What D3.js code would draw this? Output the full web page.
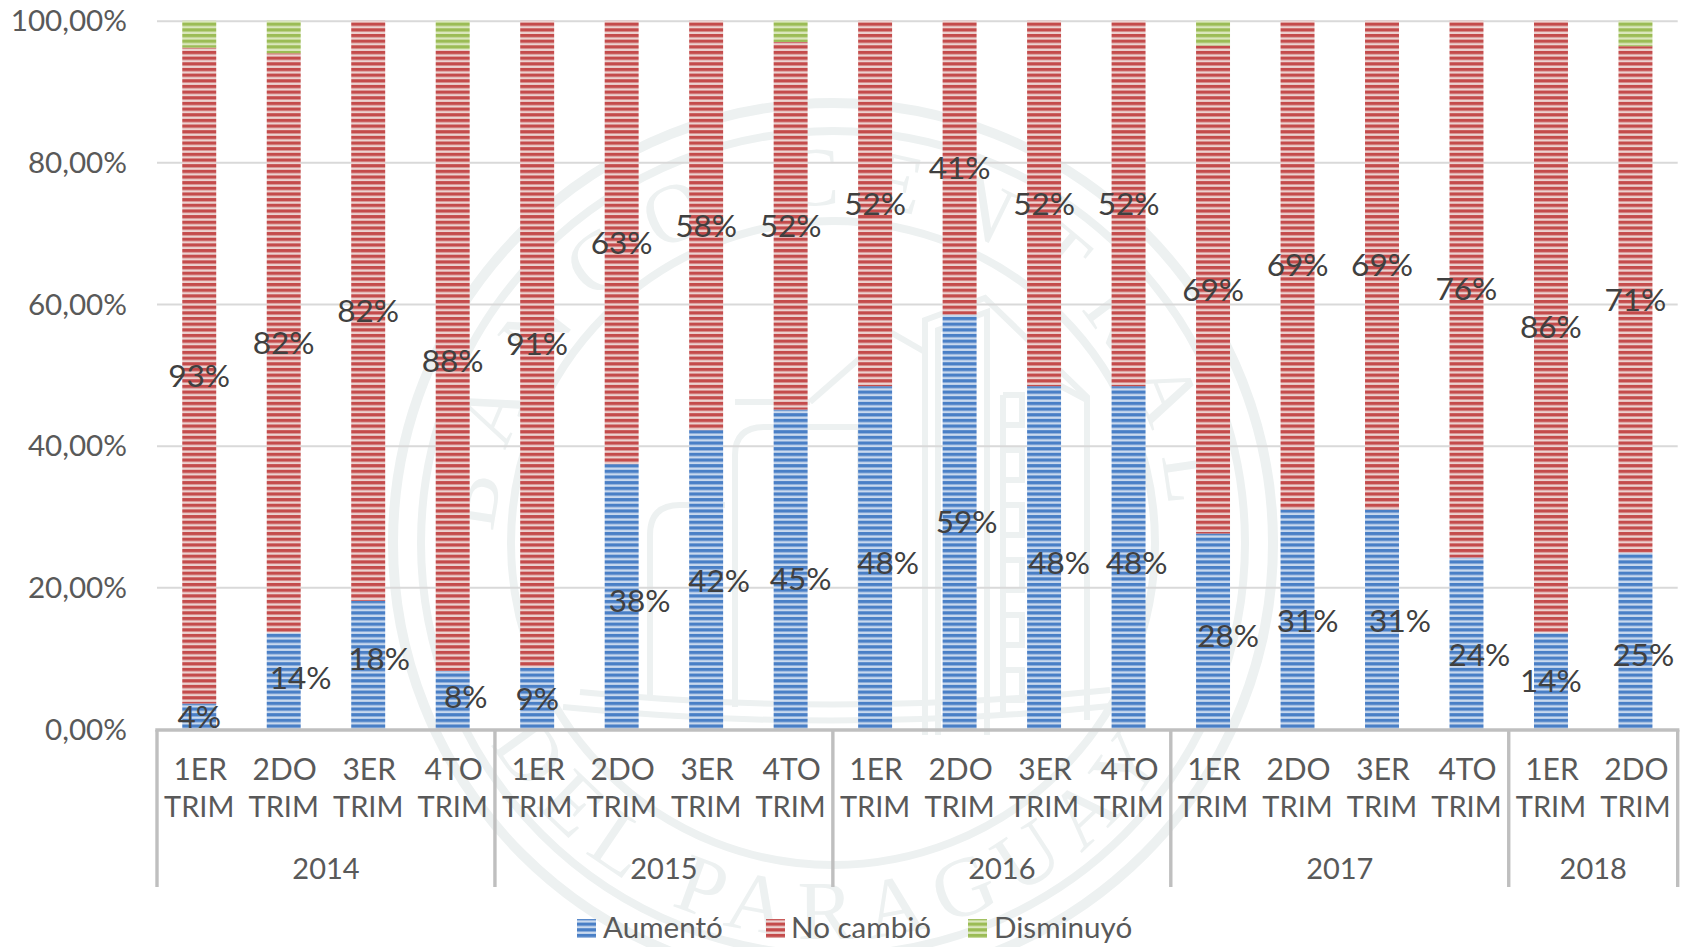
<!DOCTYPE html>
<html><head><meta charset="utf-8">
<script src="https://cdn.jsdelivr.net/npm/d3@7"></script>
<style>html,body{margin:0;padding:0;background:#fff}svg{display:block}text{font-family:Lato,"Open Sans",sans-serif}</style>
</head><body><div id="c"></div>
<script>
const quarters = ["1ER TRIM","2DO TRIM","3ER TRIM","4TO TRIM","1ER TRIM","2DO TRIM","3ER TRIM","4TO TRIM","1ER TRIM","2DO TRIM","3ER TRIM","4TO TRIM","1ER TRIM","2DO TRIM","3ER TRIM","4TO TRIM","1ER TRIM","2DO TRIM"];
const years = ["2014","2015","2016","2017","2018"];
const yearCounts = [4,4,4,4,2];
const seriesNames = ["Aumentó","No cambió","Disminuyó"];
const aumento   = [3.6,13.6,18.1,8.2,8.7,37.4,42.2,45.1,48.4,58.5,48.4,48.4,27.6,31,31,24.2,13.6,24.9];
const noCambio  = [92.6,81.8,81.9,87.7,91.3,62.6,57.8,51.9,51.6,41.5,51.6,51.6,68.9,69,69,75.8,86.4,71.5];
const disminuyo = [3.8,4.6,0,4.1,0,0,0,3,0,0,0,0,3.5,0,0,0,0,3.6];
const aumentoLabels  = ["4%","14%","18%","8%","9%","38%","42%","45%","48%","59%","48%","48%","28%","31%","31%","24%","14%","25%"];
const noCambioLabels = ["93%","82%","82%","88%","91%","63%","58%","52%","52%","41%","52%","52%","69%","69%","69%","76%","86%","71%"];
// manual nudges of the blue labels, as in the original
const aumentoNudgeX = [0,17,11,13,0,18,13,10,13,7,15,8,15,10,18,13,0,8];
const aumentoNudgeY = [0,-3,-6,-3,0,4,1,9,5,0,5,5,4,1,1,11,0,14];
const yTicks = [0,20,40,60,80,100];

const W=1688,H=947;
const L=157,R=1677.7,T=20.7,B=729;
const svg=d3.select("#c").append("svg").attr("width",W).attr("height",H);
const defs=svg.append("defs");
defs.append("filter").attr("id","soft").attr("x","-10%").attr("y","-2%").attr("width","120%").attr("height","104%")
  .append("feGaussianBlur").attr("stdDeviation",0.55);
const palette={"Aumentó":["#4a7fc6","#c9d9ee"],"No cambió":["#c44b4b","#ecd2d0"],"Disminuyó":["#9bbc55","#dbe7bd"]};
const period=5.66;
seriesNames.forEach((s,i)=>{
  const p=defs.append("pattern").attr("id","p"+i).attr("patternUnits","userSpaceOnUse").attr("width",8).attr("height",period);
  p.append("rect").attr("width",8).attr("height",period).attr("fill",palette[s][1]);
  p.append("rect").attr("width",8).attr("height",period*0.58).attr("fill",palette[s][0]);
});

/* watermark seal */
const cx=833,cy=543,wm="#edf1f1";
const seal=svg.append("g").attr("fill","none").attr("stroke",wm);
[[440,10],[412,8],[322,8]].forEach(([r,w])=>seal.append("circle").attr("cx",cx).attr("cy",cy).attr("r",r).attr("stroke-width",w));
const arc=(id,r,sweep)=>{
  defs.append("path").attr("id",id).attr("d",sweep
    ?`M${cx-r},${cy}A${r},${r} 0 0 1 ${cx+r},${cy}`
    :`M${cx-r},${cy}A${r},${r} 0 0 0 ${cx+r},${cy}`);
};
arc("arcTop",338,true);arc("arcBot",396,false);
const sealText=(id,t,ls)=>svg.append("text").attr("fill",wm)
  .style("font-family","'Liberation Serif',serif").style("font-size","84px").style("letter-spacing",ls+"px")
  .attr("text-anchor","middle").append("textPath").attr("href","#"+id).attr("startOffset","50%").text(t);
sealText("arcTop","BANCO CENTRAL",26);
sealText("arcBot","DEL PARAGUAY",16);
const bld=svg.append("g").attr("fill","none").attr("stroke",wm).attr("stroke-width",6);
[
 "M925,735V320L985,298L1087,397V720",
 "M938,735V330L987,312V735",
 "M1003,395V712M1087,400L1040,375",
 "M1003,395H1022V425H1003M1003,450H1022V480H1003M1003,505H1022V535H1003M1003,560H1022V590H1003M1003,615H1022V645H1003M1003,670H1022V700H1003",
 "M925,352L890,332L810,402",
 "M735,707V455Q735,427 765,427H860",
 "M860,427V700",
 "M650,695V535Q650,505 680,505H725",
 "M563,707Q840,735 1120,705",
 "M580,692Q840,718 1110,690",
 "M810,402H735"
].forEach(d=>bld.append("path").attr("d",d));

const x=d3.scaleBand().domain(d3.range(quarters.length)).range([L,R]).paddingInner(0.598).paddingOuter(0.299);
const y=d3.scaleLinear().domain([0,100]).range([B,T]);

/* y axis with gridlines */
const yAxis=d3.axisLeft(y).tickValues(yTicks).tickSize(-(R-L)).tickPadding(30)
  .tickFormat(v=>d3.format(".2f")(v).replace(".",",")+"%");
const gy=svg.append("g").attr("transform",`translate(${L},0)`).call(yAxis);
gy.select(".domain").remove();
gy.selectAll(".tick line").attr("stroke","#d9d9d9").attr("stroke-width",2).attr("x1",0);
gy.selectAll(".tick").filter(d=>d===0).select("line").remove();
gy.selectAll("text").attr("fill","#595959").style("font-size","29.6px").attr("dy","0.34em").style("font-family","Lato");

/* stacked bars */
const rows=quarters.map((q,i)=>({i,[seriesNames[0]]:aumento[i],[seriesNames[1]]:noCambio[i],[seriesNames[2]]:disminuyo[i]}));
const stacked=d3.stack().keys(seriesNames)(rows);
const bars=svg.append("g").attr("filter","url(#soft)");
stacked.forEach((layer,si)=>{
  bars.append("g").selectAll("rect").data(layer.filter(d=>d[1]>d[0])).join("rect")
    .attr("x",d=>x(d.data.i)).attr("width",x.bandwidth())
    .attr("y",d=>y(d[1])).attr("height",d=>y(d[0])-y(d[1]))
    .attr("fill",`url(#p${si})`);
});

/* category axis */
const axis=svg.append("g").attr("stroke","#bfbfbf").attr("stroke-width",3.4).attr("fill","none");
axis.append("line").attr("x1",L-1.7).attr("x2",R+1.7).attr("y1",B+1).attr("y2",B+1);
let acc=0;const edges=[0];yearCounts.forEach(c=>{acc+=c;edges.push(acc);});
const step=x.step();
const edgeX=k=>x(0)-x.step()*x.paddingOuter()+k*step;
edges.forEach(k=>axis.append("line").attr("x1",edgeX(k)).attr("x2",edgeX(k)).attr("y1",B+1).attr("y2",887));
svg.append("g").selectAll("text").data(quarters).join("text")
  .attr("text-anchor","middle").attr("fill","#595959").style("font-size","29px")
  .each(function(q,i){
    const cxx=x(i)+x.bandwidth()/2,parts=q.split(" ");
    const t=d3.select(this);
    t.append("tspan").attr("x",cxx+1).attr("y",779.5).style("font-size","30px").text(parts[0]);
    t.append("tspan").attr("x",cxx).attr("y",817).text(parts[1]);
  });
svg.append("g").selectAll("text").data(years).join("text")
  .attr("text-anchor","middle").attr("fill","#595959").style("font-size","29px")
  .attr("y",878.5).attr("x",(d,i)=>(edgeX(edges[i])+edgeX(edges[i+1]))/2).text(d=>d);

/* data labels */
const labels=svg.append("g").attr("text-anchor","middle").attr("fill","#404040").style("font-size","31.5px");
const mid=(layer,i)=>y((layer[i][0]+layer[i][1])/2);
labels.append("g").selectAll("text").data(aumentoLabels).join("text")
  .attr("x",(d,i)=>x(i)+x.bandwidth()/2+aumentoNudgeX[i])
  .attr("y",(d,i)=>mid(stacked[0],i)+aumentoNudgeY[i]).attr("dy","0.36em").text(d=>d);
labels.append("g").selectAll("text").data(noCambioLabels).join("text")
  .attr("x",(d,i)=>x(i)+x.bandwidth()/2)
  .attr("y",(d,i)=>mid(stacked[1],i)).attr("dy","0.36em").text(d=>d);

/* legend */
const legendX=[577,766,968],legendTextX=[603,791,994];
const lg=svg.append("g");
seriesNames.forEach((s,i)=>{
  lg.append("rect").attr("x",legendX[i]).attr("y",919).attr("width",19).attr("height",19).attr("fill",`url(#p${i})`).attr("filter","url(#soft)");
  lg.append("text").attr("x",legendTextX[i]).attr("y",938).attr("fill","#595959").style("font-size","29.6px").text(s);
});
</script></body></html>
